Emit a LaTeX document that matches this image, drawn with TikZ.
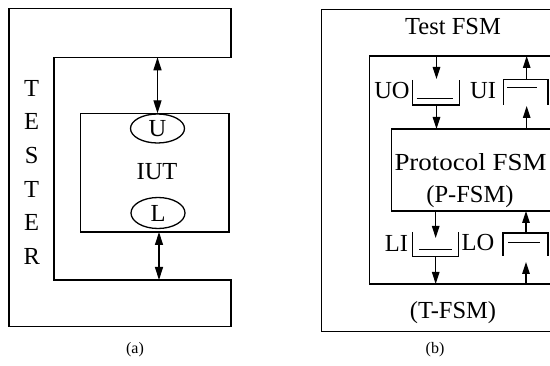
\documentclass[tikz,border=0pt]{standalone}
\usepackage{fontspec}
\setmainfont{Liberation Serif}
\usetikzlibrary{arrows.meta,shapes.geometric}
\begin{document}
\begin{tikzpicture}[x=1pt,y=-1pt,
  ln/.style={line width=1.3pt},
  arr/.style={ln,-{Triangle[length=12pt,width=7.5pt]}},
  darr/.style={ln,{Triangle[length=13pt,width=8pt]}-{Triangle[length=13pt,width=8pt]}},
  txt/.style={inner sep=0pt,font=\fontsize{24.5}{28}\selectfont},
  small/.style={inner sep=0pt,font=\fontsize{16}{19}\selectfont},
  ell/.style={ln,draw,ellipse,inner sep=0pt,minimum width=54pt},
  bx/.style={ln,draw,inner sep=0pt}]
\clip (0,0) rectangle (550,366);
\fill[white] (0,0) rectangle (550,366);
% ---------- (a) ----------
\coordinate (a1) at (9,8.3);
\coordinate (a2) at (231,8.3);
\coordinate (a3) at (231,57.3);
\coordinate (a4) at (54,57.3);
\coordinate (a5) at (54,280);
\coordinate (a6) at (231,280);
\coordinate (a7) at (231,326.7);
\coordinate (a8) at (9,326.7);
\draw[ln] (a1) -- (a2) -- (a3) -- (a4) -- (a5) -- (a6) -- (a7) -- (a8) -- cycle;
\node[bx,minimum width=148.3pt,minimum height=118.5pt] (iut) at (154.85,172.75) {};
\node[ell,minimum height=29pt] (U) at (157.5,128.5) {};
\node[txt] (Ut) at (157.5,129) {U};
\node[ell,minimum height=31pt] (L) at (158,213) {};
\node[txt] (Lt) at (158,213) {L};
\node[txt] (iutt) at (157,172) {IUT};
\coordinate (ta) at (157.5,57.3);
\coordinate (tb) at (159,232);
\coordinate (tc) at (159,280);
\draw[darr] (ta) -- (U.north);
\draw[darr] (tb) -- (tc);
\foreach \c [count=\i from 0] in {T,E,S,T,E,R}
  \node[txt] (tester\i) at (31.7,88.3+33.6*\i) {\c};
\node[small] (capa) at (135,350) {(a)};
% ---------- (b) ----------
\coordinate (b1) at (321.7,9.3);
\coordinate (b2) at (560,331.7);
\draw[ln] (b1) rectangle (b2);
\coordinate (c1) at (560,56);
\coordinate (c2) at (369.3,56);
\coordinate (c3) at (369.3,284);
\coordinate (c4) at (560,284);
\draw[ln] (c1) -- (c2) -- (c3) -- (c4);
\node[txt] (tfsm) at (453,27) {Test FSM};
\node[txt] (tfsm2) at (453,313) {(T-FSM)};
\coordinate (p1) at (391.7,129);
\coordinate (p2) at (560,211);
\draw[ln] (p1) rectangle (p2);
\node[txt] (pf1) at (470.5,162) {\scalebox{1.1}[1]{Protocol FSM}};
\node[txt] (pf2) at (470,197) {(P-FSM)};
% UO
\draw[ln] (412.7,80) -- (412.7,105) -- (459.3,105) -- (459.3,80);
\draw[ln] (416.7,98.3) -- (453,98.3);
\node[txt] (uot) at (392,91) {UO};
\coordinate (uoa) at (436.5,56);
\coordinate (uob) at (436.5,79);
\coordinate (uoc) at (436.5,105);
\coordinate (uod) at (436.5,129);
\draw[arr] (uoa) -- (uob);
\draw[arr] (uoc) -- (uod);
% UI
\draw[ln] (503.3,105) -- (503.3,79.3) -- (548,79.3) -- (548,105);
\draw[ln] (507,87.5) -- (537,87.5);
\node[txt] (uit) at (483,91) {UI};
\coordinate (uia) at (526.7,129);
\coordinate (uib) at (526.7,106);
\coordinate (uic) at (526.7,79.3);
\coordinate (uid) at (526.7,56);
\draw[arr] (uia) -- (uib);
\draw[arr] (uic) -- (uid);
% LI
\draw[ln] (412.7,232) -- (412.7,256.7) -- (458.3,256.7) -- (458.3,232);
\draw[ln] (419,249.3) -- (451.7,249.3);
\node[txt] (lit) at (396.5,243) {LI};
\coordinate (lia) at (435.7,211);
\coordinate (lib) at (435.7,238);
\coordinate (lic) at (435.7,256.7);
\coordinate (lid) at (435.7,284);
\draw[arr] (lia) -- (lib);
\draw[arr] (lic) -- (lid);
% LO
\draw[ln] (503,256) -- (503,233) -- (548,233) -- (548,256);
\draw[ln] (508,242.7) -- (540,242.7);
\node[txt] (lot) at (478,243) {LO};
\coordinate (loa) at (526,233);
\coordinate (lob) at (526,211);
\coordinate (loc) at (526,284);
\coordinate (lod) at (526,262);
\draw[arr] (loa) -- (lob);
\draw[arr] (loc) -- (lod);
\node[small] (capb) at (435,350) {(b)};
\end{tikzpicture}
\end{document}
